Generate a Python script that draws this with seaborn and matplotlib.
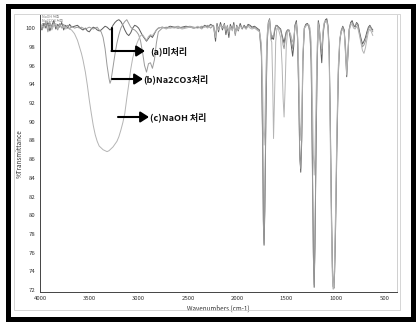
import matplotlib
matplotlib.use("Agg")
import matplotlib.pyplot as plt
import seaborn as sns
import pandas as pd
from matplotlib.patches import Rectangle
from matplotlib.lines import Line2D

# wavenumber grid (cm-1), shared by the three spectra
wavenumber = [
    4000, 3980, 3960, 3940, 3920, 3900, 3880, 3860, 3840, 3820,
    3800, 3780, 3760, 3740, 3720, 3700, 3680, 3650, 3620, 3600,
    3580, 3564, 3540, 3520, 3500, 3480, 3460, 3440, 3420, 3400,
    3380, 3360, 3340, 3320, 3300, 3290, 3280, 3260, 3240, 3220,
    3200, 3180, 3160, 3140, 3120, 3100, 3080, 3060, 3040, 3020,
    3000, 2980, 2960, 2940, 2920, 2900, 2880, 2860, 2840, 2820,
    2800, 2760, 2720, 2680, 2640, 2600, 2560, 2520, 2480, 2440,
    2400, 2360, 2330, 2300, 2270, 2240, 2220, 2205, 2190, 2170,
    2150, 2130, 2115, 2100, 2085, 2070, 2050, 2035, 2020, 2005,
    1990, 1970, 1950, 1930, 1910, 1890, 1870, 1850, 1825, 1800,
    1775, 1755, 1742, 1735, 1728, 1720, 1710, 1698, 1685, 1672,
    1660, 1650, 1640, 1632, 1622, 1610, 1598, 1580, 1560, 1545,
    1535, 1525, 1515, 1503, 1490, 1475, 1460, 1448, 1438, 1428,
    1415, 1400, 1388, 1376, 1366, 1356, 1346, 1334, 1320, 1305,
    1290, 1275, 1262, 1250, 1238, 1228, 1220, 1212, 1202, 1190,
    1178, 1168, 1155, 1143, 1130, 1118, 1105, 1092, 1080, 1068,
    1056, 1045, 1035, 1027, 1020, 1012, 1002, 990, 975, 960,
    945, 930, 915, 902, 890, 878, 865, 850, 835, 820,
    805, 790, 775, 760, 745, 730, 715, 700, 685, 670,
    655, 640, 625,
]

# (a) untreated
trans_a = [
    100.2, 99.8, 100.5, 100.0, 100.6, 99.7, 100.3, 100.8, 99.9, 100.4,
    100.1, 100.6, 99.8, 100.3, 100.0, 100.4, 100.1, 100.2, 100.3, 100.1,
    99.9, 99.8, 100.0, 99.7, 99.6, 99.9, 100.1, 100.0, 99.8, 99.7,
    99.8, 100.0, 100.2, 100.1, 99.9, 99.8, 99.9, 100.3, 100.6, 100.8,
    100.9, 100.7, 100.3, 99.8, 99.4, 99.2, 99.5, 100.0, 100.3, 100.2,
    100.0, 99.6, 99.2, 98.9, 98.6, 98.9, 99.2, 99.0, 99.4, 99.8,
    100.0, 100.1, 100.0, 100.2, 100.1, 100.0, 100.1, 100.2, 100.1, 100.0,
    100.1, 100.0, 100.3, 100.1, 100.4, 100.2, 98.6, 100.5, 99.6, 100.6,
    99.8, 100.5, 99.3, 100.2, 99.0, 100.4, 99.8, 100.6, 99.4, 100.3,
    99.7, 100.5, 99.9, 100.3, 100.0, 100.4, 100.3, 100.1, 100.2, 100.0,
    99.8, 97.5, 88.0, 79.5, 76.8, 80.5, 90.0, 98.0, 100.6, 101.0,
    99.4, 98.8, 99.0, 98.8, 99.6, 100.2, 100.3, 100.1, 99.9, 99.2,
    98.8, 98.4, 99.0, 99.6, 99.8, 99.8, 98.8, 97.8, 97.0, 98.0,
    100.3, 100.8, 99.0, 93.0, 86.5, 84.6, 88.0, 96.5, 100.0, 100.4,
    100.5, 100.3, 99.5, 96.5, 86.0, 76.0, 72.3, 76.5, 86.0, 96.0,
    100.8, 100.2, 98.0, 96.3, 99.2, 100.4, 100.9, 101.0, 100.3, 98.0,
    90.0, 81.0, 74.5, 72.4, 72.2, 74.0, 79.0, 87.0, 95.0, 98.6,
    99.7, 100.2, 99.8, 97.5, 94.8, 97.0, 99.8, 100.6, 100.8, 100.3,
    100.1, 100.6, 100.4, 99.6, 98.9, 98.3, 98.6, 99.0, 99.6, 100.1,
    100.3, 100.0, 99.8,
]

# (b) Na2CO3 treated
trans_b = [
    100.5, 99.9, 100.2, 100.7, 99.6, 100.4, 100.0, 100.6, 100.2, 99.8,
    100.5, 100.0, 100.4, 100.1, 100.3, 99.9, 100.2, 100.0, 100.1, 100.0,
    100.1, 100.0, 99.9, 100.0, 100.1, 100.0, 99.9, 100.0, 100.1, 99.8,
    99.6, 99.0, 97.8, 96.0, 94.6, 94.1, 94.4, 95.8, 97.2, 98.4,
    99.3, 100.0, 100.4, 100.7, 100.9, 100.5, 100.1, 99.9, 99.8, 99.6,
    99.3, 98.6, 97.4, 96.0, 95.3, 96.2, 96.3, 95.7, 96.6, 98.4,
    99.6, 100.0, 100.1, 100.0, 100.1, 100.2, 100.0, 100.1, 100.2, 100.1,
    100.0, 100.2, 100.1, 100.3, 100.0, 100.3, 99.2, 100.3, 100.0, 100.4,
    100.1, 100.4, 99.6, 100.3, 99.4, 100.1, 99.9, 100.4, 99.2, 100.1,
    99.9, 100.3, 100.0, 100.2, 99.9, 100.3, 100.2, 100.0, 100.1, 99.9,
    99.7, 97.0, 87.0, 79.0, 77.0, 81.5, 91.0, 98.4, 100.4, 100.8,
    99.6, 99.0, 99.2, 99.0, 99.8, 100.3, 100.2, 100.0, 99.8, 99.0,
    98.2, 97.8, 98.6, 99.5, 99.8, 99.7, 99.2, 98.4, 97.8, 98.6,
    100.2, 100.6, 98.8, 92.5, 86.0, 85.0, 88.5, 96.8, 99.9, 100.3,
    100.4, 100.2, 99.3, 96.0, 85.0, 75.5, 72.6, 77.0, 87.0, 96.5,
    100.6, 100.0, 98.4, 97.2, 99.5, 100.5, 100.7, 100.8, 100.0, 97.6,
    89.0, 80.0, 74.0, 72.3, 72.4, 74.8, 80.0, 88.0, 95.5, 98.8,
    99.8, 100.1, 99.6, 98.0, 95.5, 97.4, 99.9, 100.5, 100.6, 100.2,
    100.3, 100.5, 100.2, 99.4, 98.6, 98.0, 98.2, 98.6, 99.3, 99.9,
    100.2, 99.9, 99.6,
]

# (c) NaOH treated
trans_c = [
    99.8, 100.4, 100.0, 100.6, 100.2, 100.7, 99.8, 100.3, 100.5, 100.0,
    100.3, 100.1, 100.2, 99.9, 100.0, 99.9, 99.8, 99.4, 98.7, 98.0,
    97.3, 96.6, 95.3, 93.9, 92.3, 90.9, 89.6, 88.6, 87.9, 87.4,
    87.2, 87.0, 86.9, 86.8, 86.9, 87.0, 87.1, 87.3, 87.6, 87.9,
    88.4, 89.1, 89.9, 90.9, 92.5, 94.0, 95.6, 96.8, 97.6, 98.3,
    98.8, 99.2, 99.3, 99.0, 98.7, 99.1, 99.3, 99.2, 99.5, 99.8,
    100.0, 100.1, 99.9, 100.1, 100.0, 100.1, 99.9, 100.0, 100.1, 100.0,
    100.2, 99.9, 100.2, 100.0, 100.3, 100.1, 99.0, 100.2, 99.8, 100.3,
    100.0, 100.3, 99.8, 100.1, 99.6, 100.2, 99.7, 100.3, 99.5, 100.2,
    99.8, 100.2, 100.0, 100.1, 99.9, 100.2, 100.0, 99.9, 100.0, 99.8,
    99.6, 98.4, 93.5, 89.0, 87.5, 89.5, 95.0, 99.2, 100.5, 100.9,
    98.8, 98.5, 94.0, 88.2, 92.5, 98.5, 100.0, 99.8, 99.0, 96.0,
    92.5, 90.5, 93.5, 98.0, 99.6, 99.7, 99.4, 98.9, 98.5, 98.9,
    100.0, 100.4, 99.2, 95.5, 90.5, 88.0, 90.5, 97.5, 100.0, 100.2,
    100.3, 100.4, 100.0, 98.5, 92.5, 86.5, 84.3, 86.5, 92.0, 98.0,
    100.4, 99.8, 98.6, 97.8, 99.8, 100.6, 100.8, 100.7, 100.0, 97.0,
    87.5, 79.0, 73.5, 72.1, 72.5, 75.5, 81.0, 89.0, 96.0, 98.9,
    99.6, 99.9, 99.5, 97.2, 95.0, 97.2, 99.7, 100.3, 100.4, 100.0,
    99.9, 100.2, 99.9, 99.2, 98.4, 97.6, 97.3, 97.9, 98.8, 99.6,
    99.9, 99.6, 99.2,
]

samples = ["a", "b", "c"]
line_colors = {"a": "#5c5c5c", "b": "#9a9a9a", "c": "#b4b4b4"}

df = pd.DataFrame({
    "wn": wavenumber * 3,
    "T": trans_a + trans_b + trans_c,
    "sample": [s for s in samples for _ in wavenumber],
})

sns.set_style("white")
plt.rcParams["font.family"] = ["Noto Sans CJK KR", "DejaVu Sans"]

W, H = 417, 325
fig = plt.figure(figsize=(W / 100, H / 100), dpi=100)
ax = fig.add_axes([40 / W, 1 - 292 / H, (397 - 40) / W, (292 - 15) / H])

sns.lineplot(data=df, x="wn", y="T", hue="sample", palette=line_colors,
             sort=False, estimator=None, linewidth=0.7, legend=False, ax=ax)

ax.set_xlim(4000, 380)
ax.set_ylim(71.8, 101.4)
ax.set_xticks(range(4000, 499, -500))
ax.set_yticks(range(72, 101, 2))
ax.tick_params(labelsize=4.3, length=1.5, width=0.5, pad=1.5, colors="#333333")
for s in ["top"]:
    ax.spines[s].set_visible(False)
ax.spines["right"].set_color("#c8c8c8")
ax.spines["right"].set_linewidth(0.6)
for s in ["left", "bottom"]:
    ax.spines[s].set_color("#444444")
    ax.spines[s].set_linewidth(0.7)

ax.set_xlabel("Wavenumbers (cm-1)", fontsize=4.5, color="#333333")
ax.set_ylabel("%Transmittance", fontsize=4.5, color="#333333")
ax.xaxis.set_label_coords(0.5, -0.045)
ax.yaxis.set_label_coords(-0.045, 0.5)


def fp(x, y):
    return (x / W, 1 - y / H)


# tiny sample list in the corner
for i, name in enumerate(["NaOH 처리", "Na2CO3 처리", "미처리"]):
    fig.text(*fp(42, 17 + i * 4), name, fontsize=2.6, color="#777777",
             va="center", ha="left")

# arrows and labels
fig.add_artist(Line2D([112 / W, 112 / W], [1 - 28 / H, 1 - 51 / H],
                      transform=fig.transFigure, color="black", lw=1.5))
arrow_kw = dict(arrowstyle="-|>,head_length=0.5,head_width=0.32",
                color="black", lw=1.5, mutation_scale=10, shrinkA=0, shrinkB=0)
for (x0, x1, y) in [(111.5, 145, 51), (112, 143, 79), (118, 149, 117)]:
    fig.add_artist(matplotlib.patches.FancyArrowPatch(
        fp(x0, y), fp(x1, y), transform=fig.transFigure, **arrow_kw))

label_kw = dict(fontsize=6.5, fontweight="bold", color="#111111",
                va="center", ha="left")
fig.text(*fp(150, 51), "(a)미처리", **label_kw)
fig.text(*fp(143, 79), "(b)Na2CO3처리", **label_kw)
fig.text(*fp(150, 117), "(c)NaOH 처리", **label_kw)

# light inner frame and thick black outer border
fig.add_artist(Rectangle(fp(14, 310), (400 - 14) / W, (310 - 14) / H,
                         transform=fig.transFigure, fill=False,
                         ec="#cfcfcf", lw=0.6))
fig.add_artist(Rectangle(fp(7.5, 319), (412.5 - 7.5) / W, (319 - 6) / H,
                         transform=fig.transFigure, fill=False,
                         ec="black", lw=3.6))

fig.savefig("out.png", dpi=100, facecolor="white")
